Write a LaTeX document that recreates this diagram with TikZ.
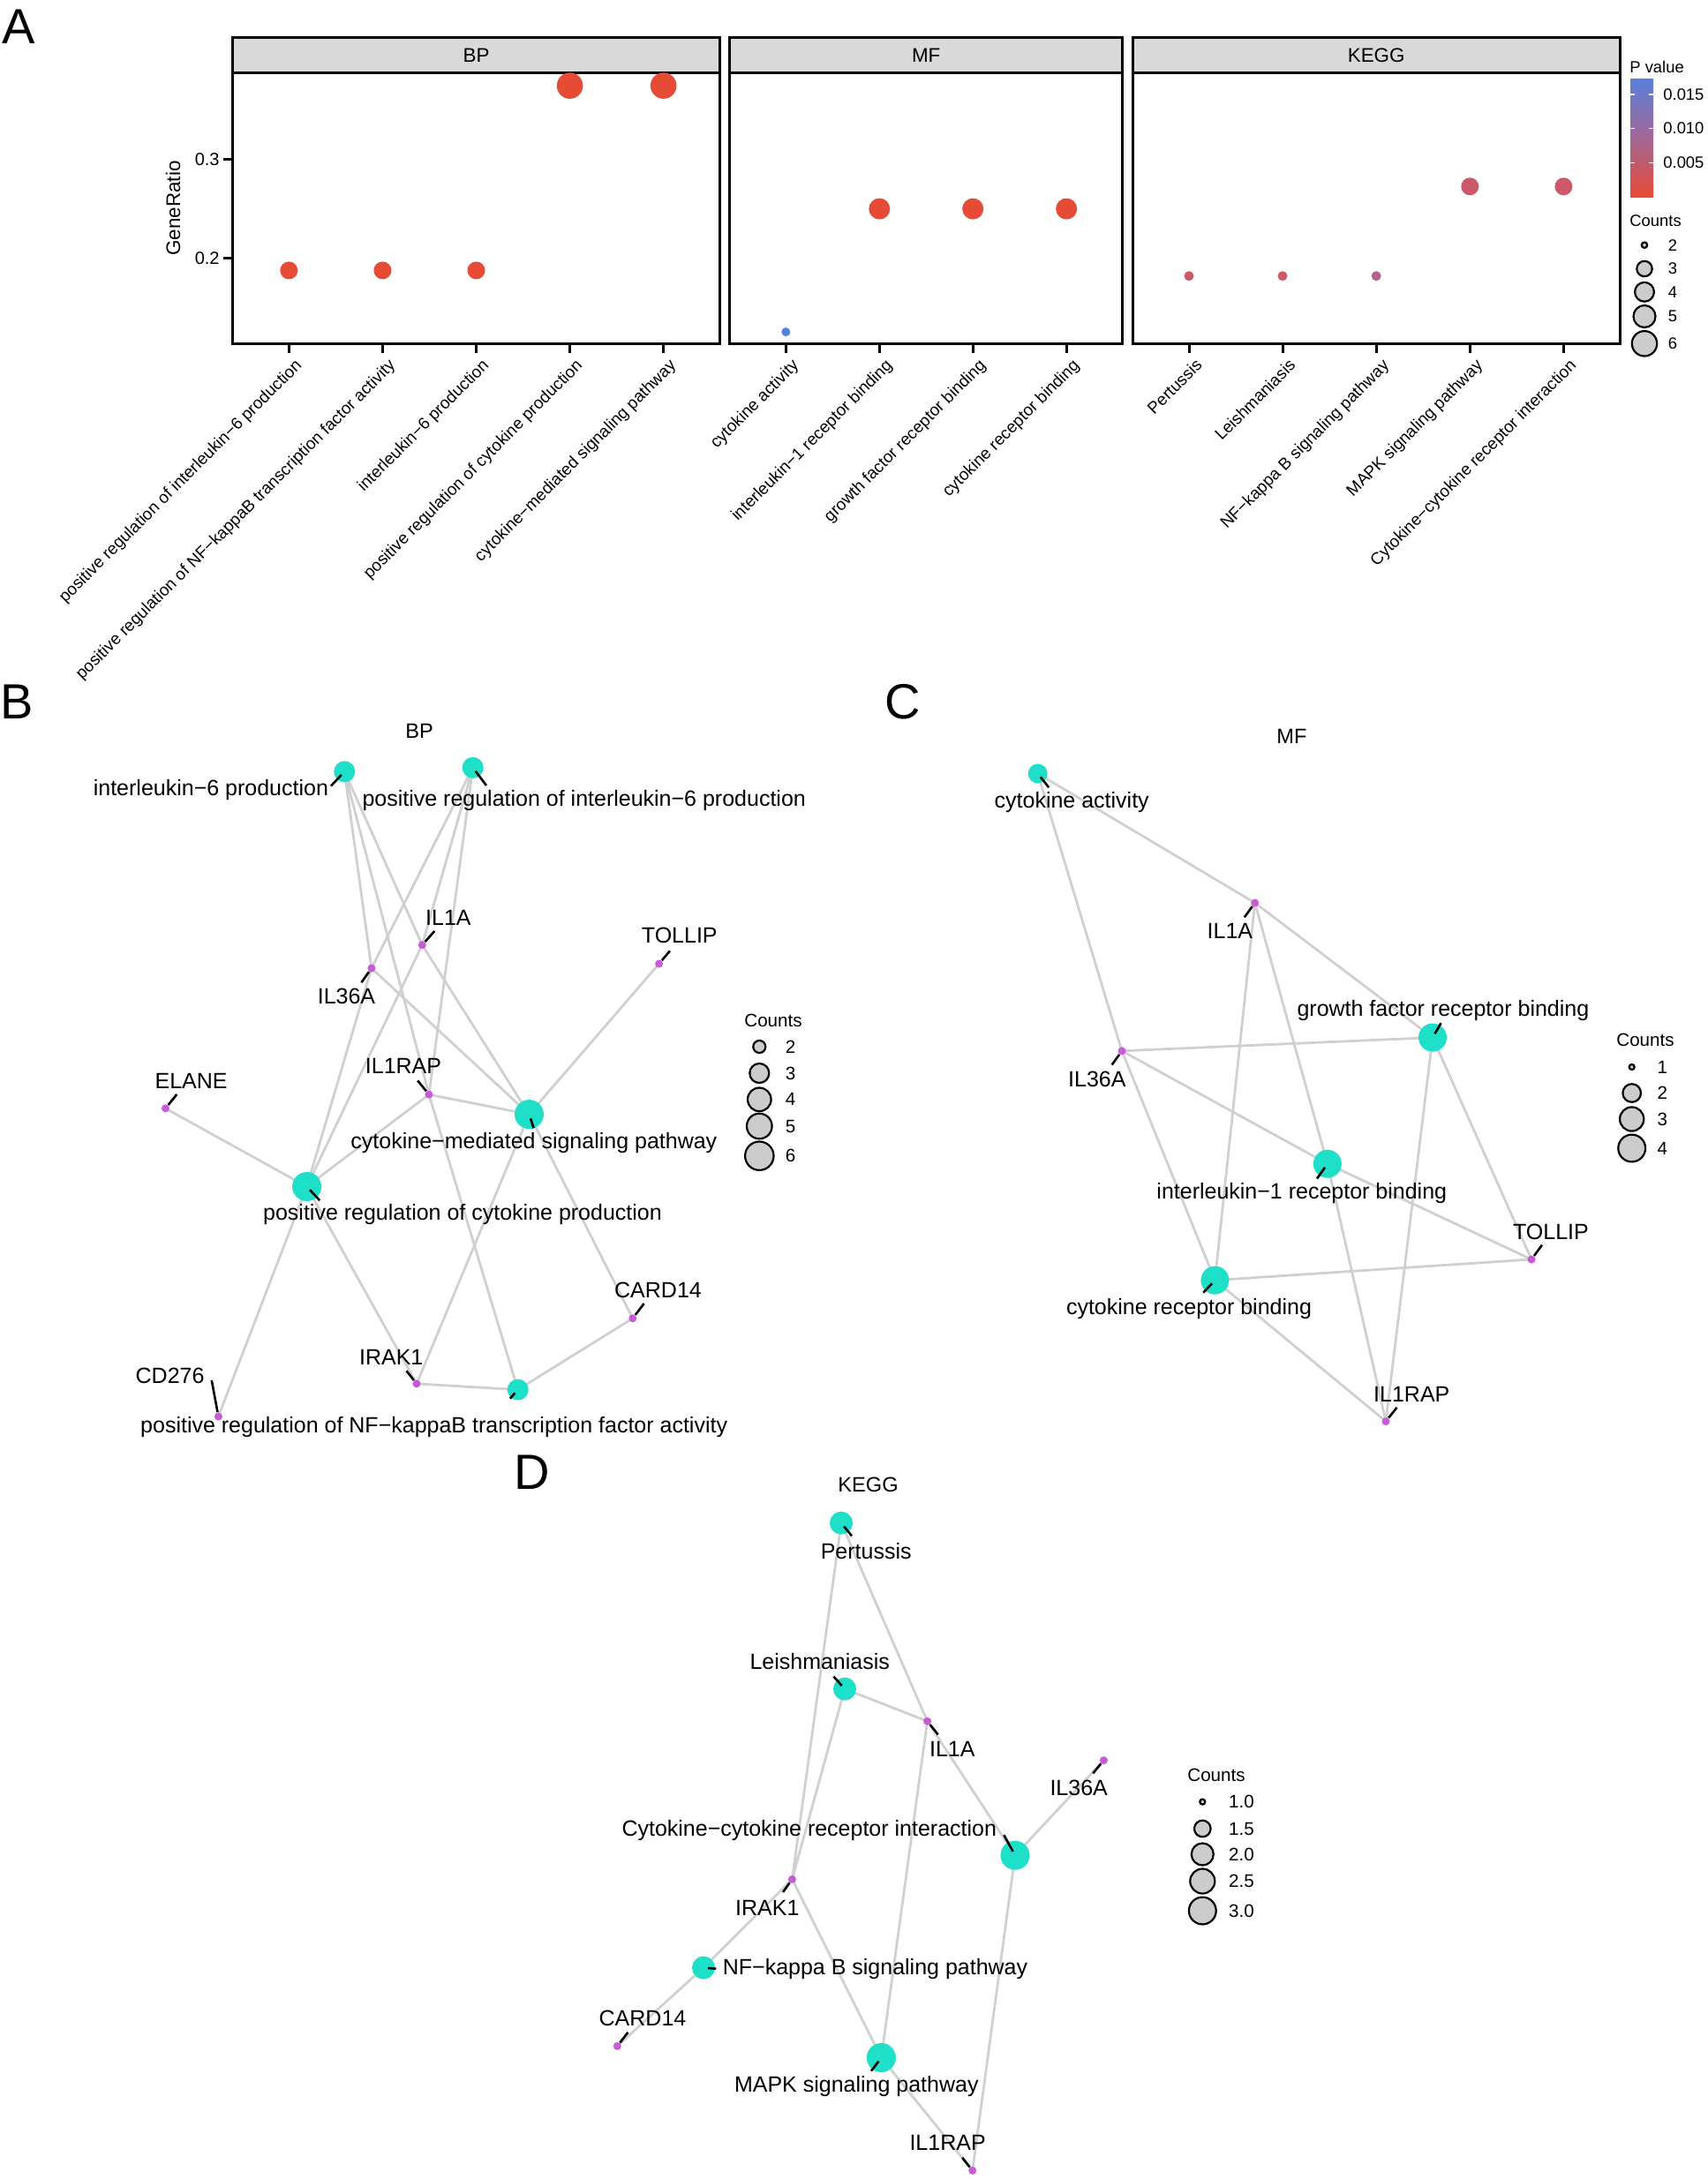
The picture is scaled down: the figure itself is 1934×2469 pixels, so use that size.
\documentclass[tikz,border=0pt]{standalone}
\usepackage{fontspec}
\setmainfont{Liberation Sans}
\pgfdeclarelayer{bg}
\pgfdeclarelayer{edges}
\pgfsetlayers{bg,edges,main}
\definecolor{tealnode}{RGB}{30,224,200}
\definecolor{genenode}{RGB}{200,90,214}
\definecolor{edgegray}{RGB}{208,208,208}
\definecolor{stripgray}{RGB}{217,217,217}
\definecolor{legfill}{RGB}{204,204,204}
\definecolor{pRed}{RGB}{230,75,53}
\definecolor{pBlue}{RGB}{88,128,220}
\definecolor{pMid}{RGB}{163,103,150}
\definecolor{kRed}{RGB}{204,89,106}
\definecolor{kPurp}{RGB}{180,100,138}
\begin{document}
\begin{tikzpicture}[x=0.5pt,y=-0.5pt,
  tdot/.style={circle,fill=tealnode,inner sep=0pt,minimum size=#1pt},
  gdot/.style={circle,fill=genenode,inner sep=0pt,minimum size=4.5pt},
  adot/.style={circle,inner sep=0pt,minimum size=#1pt},
  legc/.style={circle,draw=black,line width=1.1pt,fill=legfill,inner sep=0pt,minimum size=#1pt},
  edgeline/.style={draw=edgegray,line width=1.4pt},
  leaderline/.style={draw=black,line width=1.3pt,shorten <=2.5pt},
  lab/.style={font=\fontsize{12.5}{14}\selectfont,inner sep=0pt},
  ttl/.style={font=\fontsize{11.8}{14}\selectfont,inner sep=0pt},
  legt/.style={font=\fontsize{10.3}{12}\selectfont,inner sep=0pt},
  legsm/.style={font=\fontsize{9.2}{11}\selectfont,inner sep=0pt},
  xtl/.style={font=\fontsize{9.45}{11}\selectfont,inner sep=0pt,rotate=45,anchor=north east},
  ytl/.style={font=\fontsize{10}{12}\selectfont,inner sep=0pt,anchor=east},
  stript/.style={font=\fontsize{11.2}{13}\selectfont,inner sep=0pt},
  pletter/.style={font=\fontsize{28}{30}\selectfont,inner sep=0pt,anchor=base west},
  boxline/.style={draw=black,line width=1.5pt},
  tickline/.style={draw=black,line width=1.5pt}
]
\begin{pgfonlayer}{bg}
\fill[white] (0,0) rectangle (1934,2469);
\end{pgfonlayer}
\useasboundingbox (0,0) rectangle (1934,2469);

% ================= Panel A =================
\node[pletter] (pA) at (2,49) {A};
% strips
\filldraw[boxline,fill=stripgray] (263.6,42.4) rectangle (815.3,82.6);
\filldraw[boxline,fill=stripgray] (826.7,42.4) rectangle (1271.7,82.6);
\filldraw[boxline,fill=stripgray] (1283.3,42.4) rectangle (1835,82.6);
\node[stript] (sBP) at (539.5,62.5) {BP};
\node[stript] (sMF) at (1049.2,62.5) {MF};
\node[stript] (sKEGG) at (1559.2,62.5) {KEGG};
% panels
\draw[boxline] (263.6,82.6) rectangle (815.3,389.3);
\draw[boxline] (826.7,82.6) rectangle (1271.7,389.3);
\draw[boxline] (1283.3,82.6) rectangle (1835,389.3);
% y axis
\draw[tickline] (253,180.8) -- (263.6,180.8);
\draw[tickline] (253,292.4) -- (263.6,292.4);
\node[ytl] (yt3) at (249,180.8) {0.3};
\node[ytl] (yt2) at (249,292.4) {0.2};
\node[stript,rotate=90] (ylab) at (196,236) {GeneRatio};
% x ticks
\foreach \x in {327.3,433.4,539.5,645.6,751.7,890.3,996.3,1102.2,1208.2,1347,1453,1559.2,1665.3,1771.4}
  \draw[tickline] (\x,389.3) -- (\x,399.6);
% dots
\node[adot=10,fill=pRed] (a1) at (327.3,306.4) {};
\node[adot=10,fill=pRed] (a2) at (433.4,306.4) {};
\node[adot=10,fill=pRed] (a3) at (539.5,306.4) {};
\node[adot=14.8,fill=pRed] (a4) at (645.6,97.1) {};
\node[adot=14.8,fill=pRed] (a5) at (751.7,97.1) {};
\node[adot=5,fill=pBlue] (a6) at (890.3,376.1) {};
\node[adot=12,fill=pRed] (a7) at (996.3,236.6) {};
\node[adot=12,fill=pRed] (a8) at (1102.2,236.6) {};
\node[adot=12,fill=pRed] (a9) at (1208.2,236.6) {};
\node[adot=5.5,fill=kRed] (a10) at (1347,312.7) {};
\node[adot=5.5,fill=kRed] (a11) at (1453,312.7) {};
\node[adot=5.5,fill=kPurp] (a12) at (1559.2,312.7) {};
\node[adot=10,fill=kRed] (a13) at (1665.3,211.3) {};
\node[adot=10,fill=kRed] (a14) at (1771.4,211.3) {};
% x labels
\node[xtl] (x1) at (333,405) {positive regulation of interleukin−6 production};
\node[xtl] (x2) at (439,405) {positive regulation of NF−kappaB transcription factor activity};
\node[xtl] (x3) at (545,405) {interleukin−6 production};
\node[xtl] (x4) at (651,405) {positive regulation of cytokine production};
\node[xtl] (x5) at (757,405) {cytokine−mediated signaling pathway};
\node[xtl] (x6) at (896,405) {cytokine activity};
\node[xtl] (x7) at (1002,405) {interleukin−1 receptor binding};
\node[xtl] (x8) at (1108,405) {growth factor receptor binding};
\node[xtl] (x9) at (1214,405) {cytokine receptor binding};
\node[xtl] (x10) at (1353,405) {Pertussis};
\node[xtl] (x11) at (1459,405) {Leishmaniasis};
\node[xtl] (x12) at (1565,405) {NF−kappa B signaling pathway};
\node[xtl] (x13) at (1671,405) {MAPK signaling pathway};
\node[xtl] (x14) at (1777,405) {Cytokine−cytokine receptor interaction};
% legend A
\node[legsm,anchor=west] (pvt) at (1846,76) {P value};
\shade[top color=pBlue,bottom color=pRed,middle color=pMid] (1847,89) rectangle (1873,223);
\foreach \y in {107,145.5,184.4} {
  \draw[white,line width=0.8pt] (1847,\y) -- (1852,\y);
  \draw[white,line width=0.8pt] (1868,\y) -- (1873,\y);
}
\node[legsm,anchor=west] (pv1) at (1884,107) {0.015};
\node[legsm,anchor=west] (pv2) at (1884,145.5) {0.010};
\node[legsm,anchor=west] (pv3) at (1884,184.4) {0.005};
\node[legsm,anchor=west] (cta) at (1846,250) {Counts};
\node[legc=3.2] (la2) at (1863,277.7) {};
\node[legc=8.7] (la3) at (1863,304.5) {};
\node[legc=10.9] (la4) at (1863,330.8) {};
\node[legc=12.5] (la5) at (1863,358.5) {};
\node[legc=14.2] (la6) at (1863,389.3) {};
\node[legsm] (lta2) at (1895,277.7) {2};
\node[legsm] (lta3) at (1895,304.5) {3};
\node[legsm] (lta4) at (1895,330.8) {4};
\node[legsm] (lta5) at (1895,358.5) {5};
\node[legsm] (lta6) at (1895,389.3) {6};

% ================= Panel B =================
\node[pletter] (pB) at (0,814.8) {B};
\node[ttl] (tBP) at (475,828) {BP};
\node[tdot=12] (bIL6) at (390.3,874.3) {};
\node[tdot=12] (bPosIL6) at (535.7,869.8) {};
\node[tdot=16.5] (bCMSP) at (599.5,1262.6) {};
\node[tdot=16.5] (bPRCP) at (347.6,1344.5) {};
\node[tdot=12] (bNFkB) at (586.7,1574.6) {};
\node[gdot] (bIL1A) at (478.3,1070.7) {};
\node[gdot] (bIL36A) at (420.9,1097) {};
\node[gdot] (bTOLLIP) at (746.6,1092) {};
\node[gdot] (bELANE) at (187.5,1255.9) {};
\node[gdot] (bIL1RAP) at (486,1240.2) {};
\node[gdot] (bCARD14) at (716.8,1493.8) {};
\node[gdot] (bIRAK1) at (472,1567.9) {};
\node[gdot] (bCD276) at (247.4,1605) {};
\begin{pgfonlayer}{edges}
\foreach \a/\b in {bIL6/bIL36A,bIL6/bIL1RAP,bIL6/bIL1A,
  bPosIL6/bIL36A,bPosIL6/bIL1A,bPosIL6/bIL1RAP,
  bCMSP/bTOLLIP,bCMSP/bIL1RAP,bCMSP/bIL36A,bCMSP/bIL1A,bCMSP/bCARD14,bCMSP/bIRAK1,
  bPRCP/bELANE,bPRCP/bIL1RAP,bPRCP/bCD276,bPRCP/bIRAK1,bPRCP/bIL36A,bPRCP/bIL1A,
  bNFkB/bIRAK1,bNFkB/bCARD14,bNFkB/bIL1RAP}
  \draw[edgeline] (\a.center) -- (\b.center);
\end{pgfonlayer}
\node[lab] (lbIL6) at (238.9,895) {interleukin−6 production};
\node[lab] (lbPosIL6) at (661.7,906.8) {positive regulation of interleukin−6 production};
\node[lab] (lbIL1A) at (507.9,1039.8) {IL1A};
\node[lab] (lbIL36A) at (392.5,1129) {IL36A};
\node[lab] (lbTOLLIP) at (769.8,1059.5) {TOLLIP};
\node[lab] (lbELANE) at (216.6,1225) {ELANE};
\node[lab] (lbIL1RAP) at (457,1208) {IL1RAP};
\node[lab] (lbCMSP) at (604.9,1295) {cytokine−mediated signaling pathway};
\node[lab] (lbPRCP) at (524,1376.5) {positive regulation of cytokine production};
\node[lab] (lbCARD14) at (745.5,1461.8) {CARD14};
\node[lab] (lbIRAK1) at (443.2,1537.6) {IRAK1};
\node[lab] (lbCD276) at (192.6,1559) {CD276};
\node[lab] (lbNFkB) at (491.7,1617.3) {positive regulation of NF−kappaB transcription factor activity};
\foreach \n/\p in {bIL6/{375,890.5},bPosIL6/{551,890},bIL1A/{492.3,1055},bIL36A/{409.4,1113.3},
  bTOLLIP/{759,1077.4},bELANE/{200.3,1240},bIL1RAP/{473.2,1224.4},bCMSP/{604.6,1278.3},
  bPRCP/{362.2,1360.2},bCARD14/{729.6,1477},bIRAK1/{460.5,1553.3},bCD276/{239.8,1564},bNFkB/{577.8,1584.7}} {
  \coordinate (\n-l) at (\p);
  \draw[leaderline] (\n.center) -- (\n-l);
}
% legend B
\node[legt,anchor=west] (ctb) at (843,1156) {Counts};
\node[legc=7] (lb2) at (860.3,1186) {};
\node[legc=11] (lb3) at (860.3,1216) {};
\node[legc=13.3] (lb4) at (860.3,1245.8) {};
\node[legc=14.3] (lb5) at (860.3,1276) {};
\node[legc=16.2] (lb6) at (860.3,1309.7) {};
\node[legt] (ltb2) at (895.7,1186) {2};
\node[legt] (ltb3) at (895.7,1216) {3};
\node[legt] (ltb4) at (895.7,1245.8) {4};
\node[legt] (ltb5) at (895.7,1276) {5};
\node[legt] (ltb6) at (895.7,1309.7) {6};

% ================= Panel C =================
\node[pletter] (pC) at (1002,814) {C};
\node[ttl] (tMF) at (1463.4,834.4) {MF};
\node[tdot=11] (cCA) at (1175.7,876.5) {};
\node[tdot=16] (cGFRB) at (1623,1175.6) {};
\node[tdot=16] (cIL1RB) at (1503.9,1318.7) {};
\node[tdot=16] (cCRB) at (1376.4,1450.6) {};
\node[gdot] (cIL1A) at (1421.7,1023) {};
\node[gdot] (cIL36A) at (1271,1190.8) {};
\node[gdot] (cTOLLIP) at (1735,1427) {};
\node[gdot] (cIL1RAP) at (1570,1610.5) {};
\begin{pgfonlayer}{edges}
\foreach \a/\b in {cCA/cIL1A,cCA/cIL36A,cGFRB/cIL1A,cGFRB/cIL36A,cGFRB/cTOLLIP,cGFRB/cIL1RAP,
  cIL1RB/cIL1A,cIL1RB/cIL36A,cIL1RB/cTOLLIP,cIL1RB/cIL1RAP,
  cCRB/cIL1A,cCRB/cIL36A,cCRB/cTOLLIP,cCRB/cIL1RAP}
  \draw[edgeline] (\a.center) -- (\b.center);
\end{pgfonlayer}
\node[lab] (lcCA) at (1214.2,909) {cytokine activity};
\node[lab] (lcIL1A) at (1393.4,1055) {IL1A};
\node[lab] (lcGFRB) at (1634.9,1144.8) {growth factor receptor binding};
\node[lab] (lcIL36A) at (1242.9,1223.3) {IL36A};
\node[lab] (lcIL1RB) at (1474.8,1352.4) {interleukin−1 receptor binding};
\node[lab] (lcTOLLIP) at (1757,1396) {TOLLIP};
\node[lab] (lcCRB) at (1347,1483) {cytokine receptor binding};
\node[lab] (lcIL1RAP) at (1599.3,1579.7) {IL1RAP};
\foreach \n/\p in {cCA/{1188.2,892.2},cIL1A/{1409.8,1039.3},cGFRB/{1632.5,1159.3},cIL36A/{1259.7,1206.5},
  cIL1RB/{1492,1335.5},cTOLLIP/{1746.9,1410.8},cCRB/{1363.3,1464.6},cIL1RAP/{1582.5,1594.8}} {
  \coordinate (\n-l) at (\p);
  \draw[leaderline] (\n.center) -- (\n-l);
}
% legend C
\node[legt,anchor=west] (ctc) at (1831,1178) {Counts};
\node[legc=3] (lc1) at (1848.7,1209) {};
\node[legc=10.3] (lc2) at (1848.7,1238.5) {};
\node[legc=13.6] (lc3) at (1848.7,1268) {};
\node[legc=15.4] (lc4) at (1848.7,1301) {};
\node[legt] (ltc1) at (1883.3,1209) {1};
\node[legt] (ltc2) at (1883.3,1238.5) {2};
\node[legt] (ltc3) at (1883.3,1268) {3};
\node[legt] (ltc4) at (1883.3,1301) {4};

% ================= Panel D =================
\node[pletter] (pD) at (582,1687) {D};
\node[ttl] (tKEGG) at (983.5,1682.4) {KEGG};
\node[tdot=13] (dPert) at (953,1725.7) {};
\node[tdot=13] (dLeish) at (957,1913.7) {};
\node[tdot=16.5] (dCCRI) at (1150,2102.2) {};
\node[tdot=13] (dNFkB) at (797,2229.6) {};
\node[tdot=16.5] (dMAPK) at (998.4,2331.5) {};
\node[gdot] (dIL1A) at (1050.6,1950.3) {};
\node[gdot] (dIL36A) at (1250.4,1994.6) {};
\node[gdot] (dIRAK1) at (897.4,2129.4) {};
\node[gdot] (dCARD14) at (699.3,2318.4) {};
\node[gdot] (dIL1RAP) at (1101.7,2459.4) {};
\begin{pgfonlayer}{edges}
\foreach \a/\b in {dPert/dIL1A,dPert/dIRAK1,dLeish/dIL1A,dLeish/dIRAK1,
  dCCRI/dIL1A,dCCRI/dIL36A,dCCRI/dIL1RAP,dMAPK/dIL1A,dMAPK/dIRAK1,dMAPK/dIL1RAP,
  dNFkB/dIRAK1,dNFkB/dCARD14}
  \draw[edgeline] (\a.center) -- (\b.center);
\end{pgfonlayer}
\node[lab] (ldPert) at (981.2,1757.6) {Pertussis};
\node[lab] (ldLeish) at (928.7,1882.4) {Leishmaniasis};
\node[lab] (ldIL1A) at (1078.8,1982) {IL1A};
\node[lab] (ldIL36A) at (1222.2,2026) {IL36A};
\node[lab] (ldCCRI) at (916.8,2074.5) {Cytokine−cytokine receptor interaction};
\node[lab] (ldIRAK1) at (869.3,2161.7) {IRAK1};
\node[lab] (ldNFkB) at (991.5,2230.7) {NF−kappa B signaling pathway};
\node[lab] (ldCARD14) at (728,2287) {CARD14};
\node[lab] (ldMAPK) at (970.3,2364.4) {MAPK signaling pathway};
\node[lab] (ldIL1RAP) at (1073.6,2428) {IL1RAP};
\foreach \n/\p in {dPert/{965,1740.3},dLeish/{944.4,1899.6},dIL1A/{1062.7,1965.4},dIL36A/{1238.3,2009.3},
  dCCRI/{1137.3,2079.2},dIRAK1/{887,2144},dNFkB/{811.3,2230.7},dCARD14/{711.4,2302.8},
  dMAPK/{987,2346.6},dIL1RAP/{1090.2,2444.8}} {
  \coordinate (\n-l) at (\p);
  \draw[leaderline] (\n.center) -- (\n-l);
}
% legend D
\node[legt,anchor=west] (ctd) at (1345,2011) {Counts};
\node[legc=3] (ld1) at (1362.3,2041.6) {};
\node[legc=9.3] (ld2) at (1362.3,2072) {};
\node[legc=12.5] (ld3) at (1362.3,2101) {};
\node[legc=14] (ld4) at (1362.3,2131.5) {};
\node[legc=15.4] (ld5) at (1362.3,2165) {};
\node[legt] (ltd1) at (1406.5,2041.6) {1.0};
\node[legt] (ltd2) at (1406.5,2072) {1.5};
\node[legt] (ltd3) at (1406.5,2101) {2.0};
\node[legt] (ltd4) at (1406.5,2131.5) {2.5};
\node[legt] (ltd5) at (1406.5,2165) {3.0};
\end{tikzpicture}
\end{document}
